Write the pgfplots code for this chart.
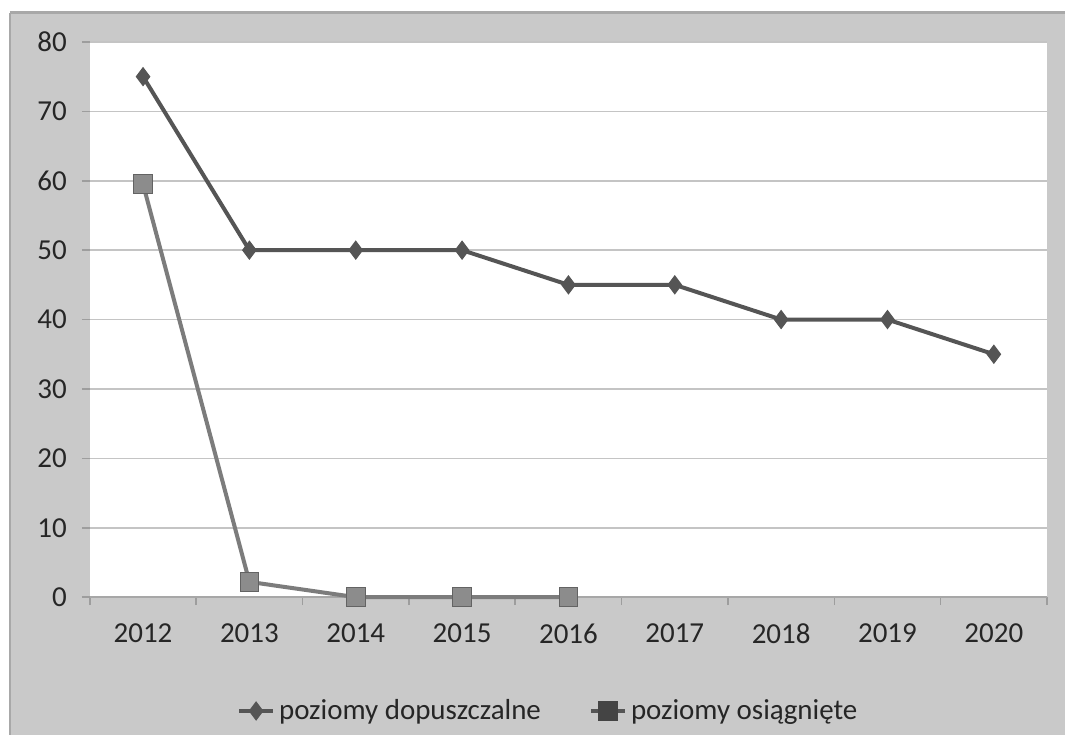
\documentclass[border=0pt]{standalone}
\usepackage{pgfplots}
\pgfplotsset{compat=1.18}
\usepackage{fontspec}
\setmainfont{Carlito}
\definecolor{bggray}{HTML}{C9C9C9}
\definecolor{bgedge}{HTML}{A8A8A8}
\definecolor{gridgray}{HTML}{C4C4C4}
\definecolor{lineA}{HTML}{555555}
\definecolor{lineB}{HTML}{7C7C7C}
\definecolor{markB}{HTML}{8C8C8C}
\definecolor{txt}{HTML}{262626}
\begin{document}
\begin{tikzpicture}
% picture frame: 1066x736 px at 0.5pt per px
\fill[white] (0,0) rectangle (533pt,368pt);
\fill[bggray] (5pt,0) rectangle (533pt,361.5pt);
\draw[bgedge, line width=1.5pt] (5pt,361.5pt) -- (533pt,361.5pt);
\draw[bgedge, line width=1pt] (5pt,0) -- (5pt,361.5pt);
\begin{axis}[
    at={(45pt,69pt)}, anchor=south west,
    scale only axis,
    width=479.25pt, height=278pt,
    xmin=-0.5, xmax=8.5,
    ymin=0, ymax=80,
    xtick={0,...,8},
    xticklabels={2012,2013,2014,2015,2016,2017,2018,2019,2020},
    minor xtick={-0.5,0.5,...,8.5},
    ytick={0,10,...,80},
    major x tick style={draw=none},
    minor x tick style={gridgray!80!black, line width=0.8pt},
    y tick style={gridgray!80!black, line width=0.8pt},
    tick align=outside,
    major tick length=4pt,
    minor tick length=4pt,
    xtick pos=bottom, ytick pos=left,
    ymajorgrids,
    grid style={gridgray, line width=0.8pt},
    axis background/.style={fill=white},
    axis line style={draw=none},
    extra y ticks={0},
    extra y tick labels={},
    extra y tick style={grid style={gridgray!85!black, line width=1.2pt}},
    /pgf/number format/assume math mode=true,
    tick label style={font=\fontsize{14.5}{16}\selectfont, text=txt},
    yticklabel style={xshift=-4pt},
    xticklabel style={yshift=-6pt},
    clip=false,
    legend style={
        at={(230pt,-57pt)}, anchor=center,
        draw=none, fill=none,
        font=\fontsize{14.5}{16}\selectfont, text=txt,
        legend columns=2,
        /tikz/every even column/.append style={column sep=22pt},
    },
    legend cell align=left,
]
\addplot[lineA, line width=2pt, mark=diamond*, mark size=4.5pt,
    mark options={fill=lineA, draw=lineA, line width=0.5pt}]
    coordinates {
    (0,75) (1,50) (2,50) (3,50) (4,45) (5,45) (6,40) (7,40) (8,35)
    };
\addlegendentry{poziomy dopuszczalne}
\addplot[lineB, line width=2pt, mark=square*, mark size=4.7pt,
    mark options={fill=markB, draw=lineB!80!black, line width=0.5pt},
    legend image post style={draw=lineA, mark options={fill=lineA!80!black, draw=lineA!80!black}, mark size=3.8pt}]
    coordinates {
    (0,59.5) (1,2.2) (2,0) (3,0) (4,0)
    };
\addlegendentry{poziomy osiągnięte}
\end{axis}
\end{tikzpicture}
\end{document}
